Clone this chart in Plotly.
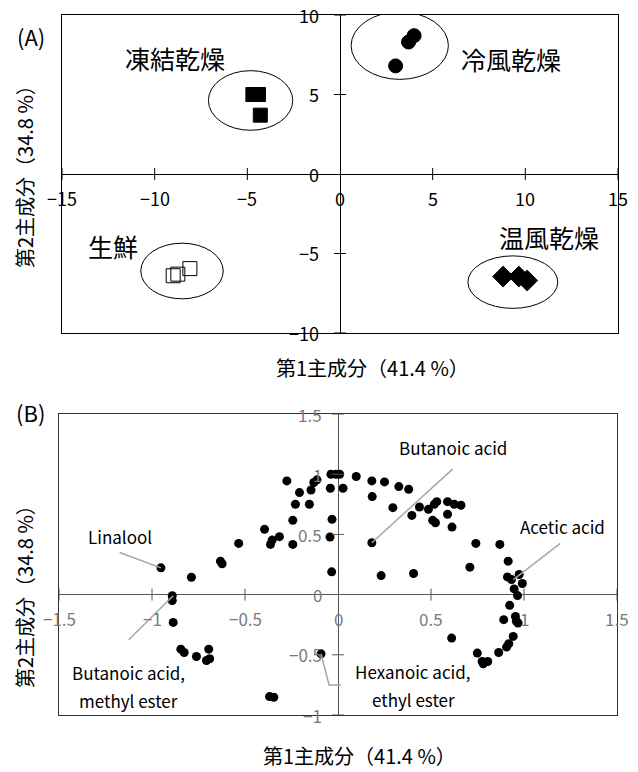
import plotly.graph_objects as go

FONT = "Noto Sans CJK JP"
W, H = 638, 772

# ---------------- Panel A data (PCA scores) ----------------
groups = ["凍結乾燥", "冷風乾燥", "生鮮", "温風乾燥"]
a_x = {
    "凍結乾燥": [-4.7, -4.4, -4.3],
    "冷風乾燥": [3.0, 3.7, 4.0],
    "生鮮": [-9.0, -8.75, -8.1],
    "温風乾燥": [8.8, 9.65, 10.1],
}
a_y = {
    "凍結乾燥": [5.0, 5.0, 3.7],
    "冷風乾燥": [6.8, 8.3, 8.7],
    "生鮮": [-6.4, -6.3, -5.95],
    "温風乾燥": [-6.45, -6.45, -6.7],
}
a_symbol = {"凍結乾燥": "square", "冷風乾燥": "circle", "生鮮": "square-open", "温風乾燥": "diamond"}
a_size = {"凍結乾燥": 14, "冷風乾燥": 14, "生鮮": 14, "温風乾燥": 16}
# group ellipses (data extent)
ell_x0 = [-7.1, 0.6, -10.75, 6.9]
ell_x1 = [-2.55, 5.85, -6.3, 11.75]
ell_y0 = [2.75, 5.95, -7.85, -8.45]
ell_y1 = [6.5, 10.2, -4.35, -5.15]
# group label positions (data)
lab_x = [-8.9, 9.2, -12.25, 11.3]
lab_y = [7.3, 7.25, -4.5, -3.95]

a_xticks = [-15, -10, -5, 0, 5, 10, 15]
a_yticks = [-10, -5, 0, 5, 10]

# ---------------- Panel B data (loadings) ----------------
b_x = [-0.952, -0.891, -0.891, -0.788, -0.632, -0.623, -0.534, -0.395, -0.363, -0.354,
       -0.315, -0.243, -0.243, -0.229, -0.154, -0.207, -0.275, -0.145, -0.13, -0.113,
       -0.038, -0.011, -0.041, -0.032, -0.043, -0.034,
       -0.886, -0.845, -0.827, -0.761, -0.695, -0.707, -0.69, -0.091, -0.368, -0.345,
       0.009, 0.027, 0.098, 0.182, 0.25, 0.327, 0.38, 0.184, 0.295, 0.438,
       0.397, 0.486, 0.518, 0.531, 0.509, 0.524, 0.589, 0.625, 0.661, 0.589,
       0.613, 0.182, 0.232, 0.406, 0.741, 0.87, 0.709, 0.915, 0.911, 0.933,
       0.974, 0.991, 0.947, 0.965, 0.923,
       0.891, 0.954, 0.959, 0.968, 0.611, 0.942, 0.918, 0.906, 0.864, 0.749,
       0.775, 0.805, 0.781]
b_y = [0.222, -0.01, -0.05, 0.144, 0.278, 0.256, 0.425, 0.542, 0.417, 0.453,
       0.481, 0.417, 0.617, 0.75, 0.75, 0.847, 0.944, 0.869, 0.931, 0.953,
       1.0, 1.0, 0.883, 0.625, 0.478, 0.189,
       -0.231, -0.453, -0.481, -0.514, -0.453, -0.547, -0.533, -0.492, -0.847, -0.853,
       1.0, 0.883, 0.981, 0.944, 0.936, 0.897, 0.875, 0.814, 0.722, 0.728,
       0.658, 0.708, 0.75, 0.772, 0.617, 0.597, 0.772, 0.75, 0.742, 0.667,
       0.561, 0.431, 0.158, 0.175, 0.425, 0.417, 0.228, 0.278, 0.147, 0.125,
       0.167, 0.092, 0.047, -0.008, -0.089,
       -0.208, -0.181, -0.222, -0.236, -0.361, -0.347, -0.408, -0.436, -0.481, -0.486,
       -0.556, -0.556, -0.575]

b_xticks = [-1.5, -1, -0.5, 0, 0.5, 1, 1.5]
b_yticks = [-1, -0.5, 0, 0.5, 1, 1.5]

# labelled compounds: name lines, label centre (data), leader path (data)
comp_lines = [["Linalool"], ["Butanoic acid"], ["Acetic acid"],
              ["Butanoic acid,", "methyl ester"], ["Hexanoic acid,", "ethyl ester"]]
comp_lab_x = [-1.174, 0.616, 1.206, -1.128, 0.405]
comp_lab_y = [0.483, 1.225, 0.567, -0.65, -0.642]
comp_path = [
    [(-1.174, 0.35), (-0.952, 0.222)],
    [(0.616, 1.042), (0.182, 0.431)],
    [(1.195, 0.425), (0.943, 0.125)],
    [(-1.125, -0.375), (-0.886, -0.01)],
    [(-0.091, -0.492), (-0.048, -0.75), (0.016, -0.75)],
]

x_title = "第1主成分（41.4 %）"
y_title = "第2主成分（34.8 %）"


def fmt(v):
    s = ("%g" % v)
    return s.replace("-", "−")


fig = go.Figure()

for g in groups:
    fig.add_trace(go.Scatter(
        x=a_x[g], y=a_y[g], mode="markers", name=g, xaxis="x", yaxis="y",
        marker=dict(symbol=a_symbol[g], size=a_size[g], color="black",
                    line=dict(color="black", width=1)),
        showlegend=False))

fig.add_trace(go.Scatter(
    x=b_x, y=b_y, mode="markers", xaxis="x2", yaxis="y2",
    marker=dict(symbol="circle", size=9, color="black"), showlegend=False))

shapes = []
ann = []

# ellipses
for i in range(len(groups)):
    shapes.append(dict(type="circle", xref="x", yref="y",
                       x0=ell_x0[i], x1=ell_x1[i], y0=ell_y0[i], y1=ell_y1[i],
                       line=dict(color="black", width=1)))
    ann.append(dict(x=lab_x[i], y=lab_y[i], xref="x", yref="y", text=groups[i],
                    showarrow=False, xanchor="center", yanchor="middle",
                    font=dict(family=FONT, size=25, color="black")))


def ticks(xr, yr, xt, yt, color, lblcolor, yshift, xshift, fsize):
    for t in xt:
        if t != 0:
            shapes.append(dict(type="line", xref=xr, yref=yr, x0=t, x1=t,
                               ysizemode="pixel", yanchor=0, y0=-6, y1=6,
                               line=dict(color=color, width=1)))
        ann.append(dict(x=t, y=0, xref=xr, yref=yr, text=fmt(t), showarrow=False,
                        xanchor="center", yanchor="middle", yshift=yshift,
                        font=dict(family=FONT, size=fsize, color=lblcolor)))
    for t in yt:
        if t != 0:
            shapes.append(dict(type="line", xref=xr, yref=yr, y0=t, y1=t,
                               xsizemode="pixel", xanchor=0, x0=-6, x1=6,
                               line=dict(color=color, width=1)))
        ann.append(dict(x=0, y=t, xref=xr, yref=yr, text=fmt(t), showarrow=False,
                        xanchor="right", yanchor="middle", xshift=xshift,
                        font=dict(family=FONT, size=fsize, color=lblcolor)))


ticks("x", "y", a_xticks, a_yticks, "black", "black", -24, -19, 18)
ticks("x2", "y2", b_xticks, b_yticks, "#555555", "#7a7a7a", -24, -14, 17)

# compound labels and leaders
for i, lines in enumerate(comp_lines):
    pts = comp_path[i]
    path = "M " + " L ".join("%g,%g" % p for p in pts)
    shapes.append(dict(type="path", xref="x2", yref="y2", path=path,
                       line=dict(color="#a6a6a6", width=1.5)))
    for j, ln in enumerate(lines):
        ann.append(dict(x=comp_lab_x[i], y=comp_lab_y[i], xref="x2", yref="y2",
                        text=ln, showarrow=False, yshift=-28 * j,
                        xanchor="center", yanchor="middle",
                        font=dict(family=FONT, size=17, color="black")))

# panel letters & axis titles (paper coords)
def px(x):
    return x / W


def py(y):
    return 1 - y / H


for txt, x, y in [("(A)", 31, 36), ("(B)", 31, 412)]:
    ann.append(dict(x=px(x), y=py(y), xref="paper", yref="paper", text=txt, showarrow=False,
                    xanchor="center", yanchor="middle",
                    font=dict(family=FONT, size=22, color="black")))
for x, y in [(372, 368), (360, 755)]:
    ann.append(dict(x=px(x), y=py(y), xref="paper", yref="paper", text=x_title, showarrow=False,
                    xanchor="center", yanchor="middle",
                    font=dict(family=FONT, size=20, color="black")))
for x, y in [(24, 172), (24, 592)]:
    ann.append(dict(x=px(x), y=py(y), xref="paper", yref="paper", text=y_title, showarrow=False,
                    xanchor="center", yanchor="middle",
                    textangle=-90, font=dict(family=FONT, size=20, color="black")))

common = dict(showgrid=False, showticklabels=False, ticks="", showline=True, mirror=True,
              zeroline=True, zerolinewidth=1)

fig.update_layout(
    width=W, height=H, margin=dict(l=0, r=0, t=0, b=0),
    paper_bgcolor="white", plot_bgcolor="white",
    xaxis=dict(domain=[px(62), px(618)], range=[-15, 15], anchor="y",
               linecolor="black", zerolinecolor="black", **common),
    yaxis=dict(domain=[py(333), py(15)], range=[-10, 10], anchor="x",
               linecolor="black", zerolinecolor="black", **common),
    xaxis2=dict(domain=[px(59), px(617)], range=[-1.5, 1.5], anchor="y2",
                linecolor="#333333", zerolinecolor="#555555", **common),
    yaxis2=dict(domain=[py(715), py(414)], range=[-1, 1.5], anchor="x2",
                linecolor="#333333", zerolinecolor="#555555", **common),
    shapes=shapes, annotations=ann,
    font=dict(family=FONT),
)

fig.write_html("out.html")
